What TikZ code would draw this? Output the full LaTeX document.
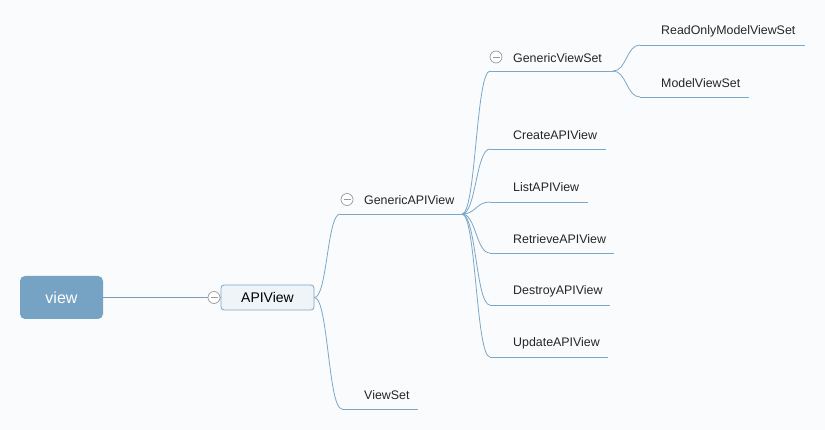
\documentclass[tikz,border=0pt]{standalone}
\usepackage{fontspec}
\setmainfont{Liberation Sans}
\usetikzlibrary{calc}
\definecolor{bgc}{HTML}{FAFBFC}
\definecolor{lnc}{HTML}{7BA7C8}
\definecolor{rootc}{HTML}{76A3C3}
\definecolor{boxc}{HTML}{EEF4F8}
\definecolor{circc}{HTML}{999999}
\tikzset{
  ln/.style={draw=lnc, line width=0.8pt},
  mm/.style={to path={.. controls ($(\tikztostart)!0.5!(\tikztostart-|\tikztotarget)$) and ($(\tikztotarget)!0.5!(\tikztotarget-|\tikztostart)$) .. (\tikztotarget)}},
  lbl/.style={anchor=west, inner sep=0pt, font=\fontsize{12.4}{14}\selectfont, text=black!85},
  fold/.style={circle, draw=circc, fill=white, line width=0.7pt, minimum size=12pt, inner sep=0pt,
    path picture={\draw[circc, line width=0.7pt] ([xshift=-3.5pt]path picture bounding box.center) -- ([xshift=3.5pt]path picture bounding box.center);}},
}
\begin{document}
\begin{tikzpicture}[x=1pt,y=-1pt]
\fill[bgc] (0,0) rectangle (825,430);
\useasboundingbox (0,0) rectangle (825,430);
% root
\node[fill=rootc, rounded corners=5pt, minimum width=83pt, minimum height=43pt, inner sep=0pt, text=white, font=\fontsize{16}{18}\selectfont] (view) at (61.5,297.5) {view};
\node[fill=boxc, draw=lnc, line width=0.8pt, rounded corners=3pt, minimum width=93pt, minimum height=25pt, inner sep=0pt, font=\fontsize{14}{16}\selectfont] (api) at (267.5,297.5) {APIView};
\draw[draw=lnc!80!gray, line width=0.8pt] (view.east) -- (api.west);
\node[fold] (f1) at (214,297.5) {};
% level 2
\coordinate (gav0) at (340,214); \coordinate (gav1) at (462,214);
\coordinate (vs0) at (342,409); \coordinate (vs1) at (418,409);
\node[lbl] (gavt) at (364,200.5) {GenericAPIView};
\node[lbl] (vst) at (364,395.5) {ViewSet};
\node[fold] (f2) at (347,199.5) {};
\draw[ln] (gav0) -- (gav1);
\draw[ln] (vs0) -- (vs1);
\draw[ln] (api.east) to[mm] (gav0);
\draw[ln] (api.east) to[mm] (vs0);
% level 3
\coordinate (gvs0) at (490,71); \coordinate (gvs1) at (613,71);
\coordinate (cr0) at (490,149); \coordinate (cr1) at (606,149);
\coordinate (li0) at (490,202); \coordinate (li1) at (588,202);
\coordinate (re0) at (490,253); \coordinate (re1) at (614,253);
\coordinate (de0) at (490,305); \coordinate (de1) at (610,305);
\coordinate (up0) at (490,357); \coordinate (up1) at (608,357);
\node[lbl] (gvst) at (513,58) {GenericViewSet};
\node[fold] (f3) at (496,57) {};
\node[lbl] (crt) at (513,135.5) {CreateAPIView};
\node[lbl] (lit) at (513,187.5) {ListAPIView};
\node[lbl] (ret) at (513,239.5) {RetrieveAPIView};
\node[lbl] (det) at (513,291.5) {DestroyAPIView};
\node[lbl] (upt) at (513,343.5) {UpdateAPIView};
\foreach \n in {gvs,cr,li,re,de,up}{
  \draw[ln] (\n0) -- (\n1);
  \draw[ln] (gav1) to[mm] (\n0);
}
% level 4
\coordinate (ro0) at (640,45); \coordinate (ro1) at (805,45);
\coordinate (mv0) at (640,97); \coordinate (mv1) at (749,97);
\node[lbl] (rot) at (661,31.5) {ReadOnlyModelViewSet};
\node[lbl] (mvt) at (661,83.5) {ModelViewSet};
\foreach \n in {ro,mv}{
  \draw[ln] (\n0) -- (\n1);
  \draw[ln] (gvs1) to[mm] (\n0);
}
\end{tikzpicture}
\end{document}
